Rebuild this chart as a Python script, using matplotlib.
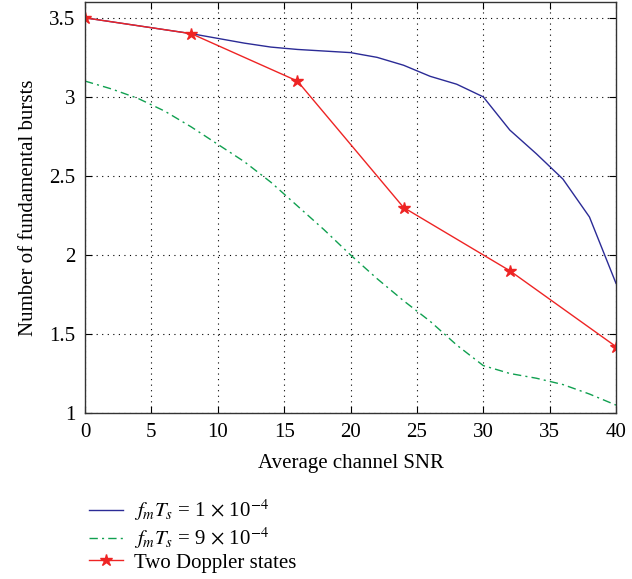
import numpy as np
import matplotlib
matplotlib.use('Agg')
import matplotlib.pyplot as plt

plt.rcParams['font.family'] = ['Liberation Serif', 'DejaVu Serif']
plt.rcParams['mathtext.fontset'] = 'stix'

# data
snr = [0, 2, 4, 6, 8, 10, 12, 14, 16, 18, 20, 22, 24, 26, 28, 30, 32, 34, 36, 38, 40]
bursts_1e4 = [3.5, 3.475, 3.45, 3.425, 3.4, 3.37, 3.34, 3.315, 3.30, 3.29, 3.28, 3.25, 3.20,
              3.13, 3.08, 3.0, 2.79, 2.64, 2.48, 2.24, 1.82]
bursts_9e4 = [3.1, 3.05, 2.99, 2.91, 2.81, 2.70, 2.59, 2.46, 2.31, 2.16, 2.0, 1.85, 1.71,
              1.58, 1.43, 1.30, 1.25, 1.22, 1.18, 1.12, 1.05]
snr_two = [0, 8, 16, 24, 32, 40]
bursts_two = [3.5, 3.4, 3.1, 2.3, 1.9, 1.42]

labels = [r'$f_m T_s$ = 1 $\times$ 10$^{-4}$',
          r'$f_m T_s$ = 9 $\times$ 10$^{-4}$',
          'Two Doppler states']

fig = plt.figure(figsize=(6.32, 5.79), dpi=100)
ax = fig.add_axes([0.1345, 0.2867, 0.8402, 0.7098])

ax.plot(snr, bursts_1e4, color='#2b2b96', lw=1.0, label=labels[0])
ax.plot(snr, bursts_9e4, color='#10a050', lw=1.0, ls=(0, (6, 3, 1.5, 3)), label=labels[1])
ax.plot(snr_two, bursts_two, color='#ee2424', lw=1.0, marker='*', ms=9, label=labels[2])

ax.set_xlim(0, 40)
ax.set_ylim(1, 3.6)
ax.set_xticks(np.arange(0, 41, 5))
ax.set_yticks([1, 1.5, 2, 2.5, 3, 3.5])
ax.set_yticklabels(['1', '1.5', '2', '2.5', '3', '3.5'])
ax.grid(True, color='black', ls=(0, (1, 4)), lw=0.8)
ax.tick_params(direction='in', top=True, right=True, labelsize=15, length=5, pad=7)
for s in ax.spines.values():
    s.set_linewidth(1.0)
    s.set_color('#333333')

ax.set_xlabel('Average channel SNR', fontsize=15, labelpad=9)
ax.set_ylabel('Number of fundamental bursts', fontsize=15, labelpad=8)

fig.legend(loc='upper left', bbox_to_anchor=(0.128, 0.155), frameon=False,
           fontsize=15, handlelength=1.6, handletextpad=0.55, labelspacing=0.1,
           borderaxespad=0)

fig.savefig('out.png', dpi=100)
